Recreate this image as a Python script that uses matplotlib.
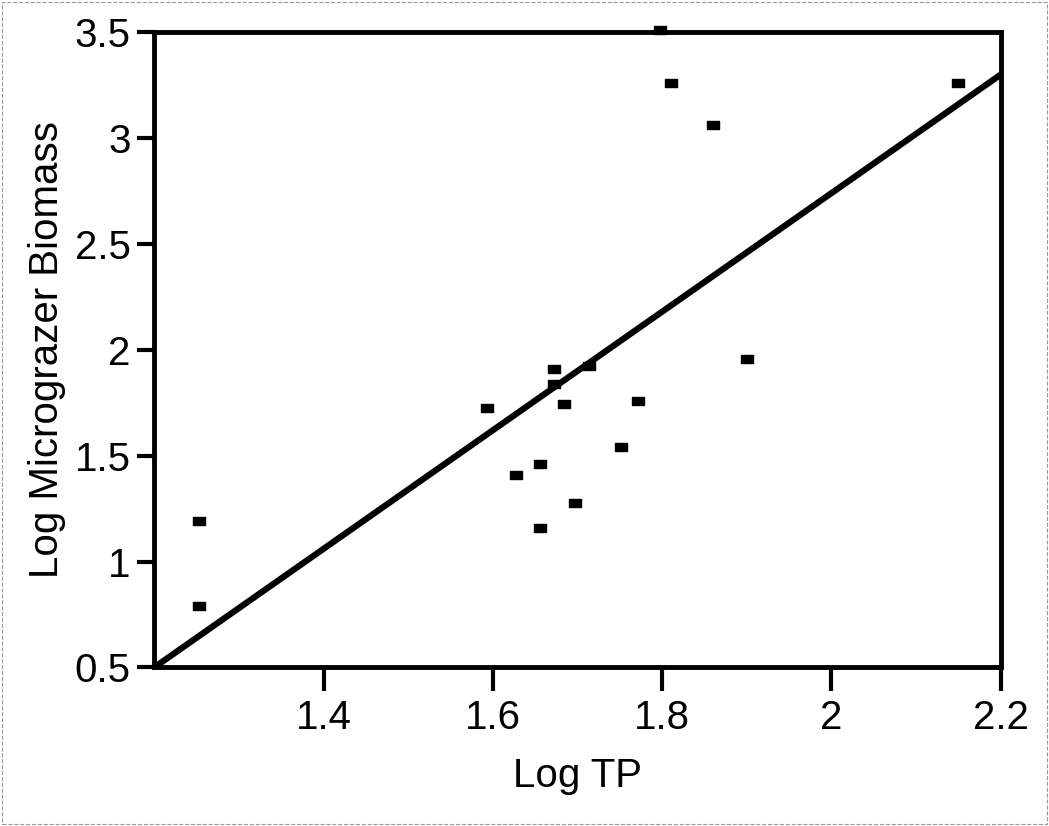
import numpy as np
import matplotlib.pyplot as plt
from matplotlib.path import Path

plt.rcParams['font.family'] = ['Liberation Sans', 'DejaVu Sans']

# data
log_tp = [1.253, 1.253, 1.593, 1.627, 1.656, 1.656, 1.672, 1.672, 1.684, 1.697,
          1.714, 1.751, 1.772, 1.798, 1.811, 1.860, 1.900, 2.150]
log_bio = [1.19, 0.79, 1.725, 1.408, 1.46, 1.16, 1.908, 1.84, 1.742, 1.278,
           1.925, 1.54, 1.76, 3.51, 3.26, 3.06, 1.958, 3.26]
fit_x = [1.2, 2.2]
fit_y = [0.5, 3.3]

# wide little rectangle, like the scanned markers
rect = Path([(-1, -0.65), (1, -0.65), (1, 0.65), (-1, 0.65), (-1, -0.65)],
            [Path.MOVETO, Path.LINETO, Path.LINETO, Path.LINETO, Path.CLOSEPOLY])

fig = plt.figure(figsize=(10.49, 8.26), dpi=100)
ax = fig.add_axes([0.147, 0.192, 0.807, 0.769])

ax.plot(fit_x, fit_y, color="black", lw=4.5, solid_capstyle="butt")
ax.plot(log_tp, log_bio, ls="none", marker=rect, ms=8.5, color="black", clip_on=False)

ax.set_xlim(1.2, 2.2)
ax.set_ylim(0.5, 3.5)
ax.set_xticks([1.4, 1.6, 1.8, 2.0, 2.2])
ax.set_xticklabels(["1.4", "1.6", "1.8", "2", "2.2"])
ax.set_yticks([0.5, 1, 1.5, 2, 2.5, 3, 3.5])
ax.set_yticklabels(["0.5", "1", "1.5", "2", "2.5", "3", "3.5"])
ax.tick_params(direction="out", length=17, width=3, labelsize=29, pad=6)
ax.tick_params(axis="y", length=12, pad=5)
for s in ax.spines.values():
    s.set_linewidth(3.5)

ax.set_xlabel("Log TP", fontsize=29, labelpad=14)
ax.set_ylabel("Log Micrograzer Biomass", fontsize=29, labelpad=6)

# faint scan border
fig.patches.append(plt.Rectangle((0.002, 0.002), 0.996, 0.996, transform=fig.transFigure,
                                 fill=False, ec="#999999", lw=0.8, ls="--"))

fig.savefig("out.png", dpi=100)
